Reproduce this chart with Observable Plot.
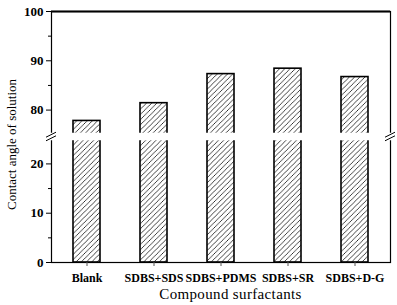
<!DOCTYPE html>
<html><head><meta charset="utf-8">
<script src="https://cdn.jsdelivr.net/npm/d3@7"></script>
<script src="https://cdn.jsdelivr.net/npm/@observablehq/plot@0.6"></script>
<style>html,body{margin:0;padding:0;background:#fff} svg{display:block}</style>
</head><body><div id="chart"></div>
<script>
const categories = ["Blank", "SDBS+SDS", "SDBS+PDMS", "SDBS+SR", "SDBS+D-G"];
const contactAngle = [77.8, 81.4, 87.3, 88.4, 86.7];
const yTicksMajor = [0, 10, 20, 80, 90, 100];
const yTicksMinor = [5, 15, 85, 95];
const breakLow = 24.7, breakHigh = 75.3, gapV = 1.52;
const yTitle = "Contact angle of solution";
const xTitle = "Compound surfactants";

// broken-axis mapping: real value -> continuous axis coordinate
const toV = v => v <= breakLow ? v : v - breakHigh + breakLow + gapV;
const fromV = t => t <= breakLow + gapV / 2 ? t : t - breakLow - gapV + breakHigh;

const data = categories.map((c, i) => ({surfactant: c, v: toV(contactAngle[i])}));

const W = 397, H = 305, mL = 51, mR = 7, mT = 11, mB = 43;
const font = "'Liberation Serif', 'Times New Roman', serif";

const chart = Plot.plot({
  width: W, height: H,
  marginLeft: mL, marginRight: mR, marginTop: mT, marginBottom: mB,
  style: {fontFamily: font, background: "#fff", color: "black", overflow: "visible"},
  x: {domain: categories, paddingInner: 0.59, paddingOuter: 0.295, align: 0.5},
  y: {domain: [0, toV(100)]},
  marks: [
    Plot.barY(data, {x: "surfactant", y1: 0, y2: "v", fill: "url(#hatch)", stroke: "black", strokeWidth: 1.6}),
    Plot.frame({stroke: "black", strokeWidth: 1.2}),
    Plot.ruleY([toV(100)], {stroke: "black", strokeWidth: 2}),
    Plot.rect([0], {y1: breakLow, y2: breakLow + gapV, fill: "white", insetLeft: -5, insetRight: -5}),
    Plot.axisY({ticks: yTicksMajor.map(toV), tickFormat: t => Math.round(fromV(t)), tickSize: 5, tickPadding: 3, fontSize: 13, fontWeight: "bold", label: null}),
    Plot.axisY({ticks: yTicksMinor.map(toV), tickSize: 3, text: null, label: null}),
    Plot.axisX({tickSize: 4, tickPadding: 7, fontSize: 12, fontWeight: "bold", label: null, stroke: "#555"}),
    Plot.text([yTitle], {frameAnchor: "left", textAnchor: "middle", dx: -40, dy: 7.5, rotate: -90, fontSize: 13, fill: "black"}),
    Plot.text([xTitle], {frameAnchor: "bottom", textAnchor: "middle", dx: 9.5, dy: 36.5, fontSize: 15, fill: "black"})
  ]
});

const svg = d3.select(chart);
const defs = svg.insert("defs", ":first-child");
const s = 5.2;
const pat = defs.append("pattern").attr("id", "hatch").attr("patternUnits", "userSpaceOnUse")
  .attr("width", s).attr("height", s);
pat.append("rect").attr("width", s).attr("height", s).attr("fill", "white");
pat.append("path")
  .attr("d", `M0,${s} L${s},0 M${-s/2},${s/2} L${s/2},${-s/2} M${s/2},${s*1.5} L${s*1.5},${s/2}`)
  .attr("stroke", "#111").attr("stroke-width", 0.8);

// break marks on left axis and right frame
const ys = chart.scale("y");
const yc = (ys.apply(breakLow) + ys.apply(breakLow + gapV)) / 2;
for (const xc of [mL, W - mR]) {
  for (const off of [-1.8, 1.8]) {
    svg.append("line")
      .attr("x1", xc - 5).attr("y1", yc + off + 2.5)
      .attr("x2", xc + 5).attr("y2", yc + off - 2.5)
      .attr("stroke", "black").attr("stroke-width", 1);
  }
}
svg.selectAll("text").filter(function(){ return this.textContent === xTitle; }).style("letter-spacing", "0.35px");
document.getElementById("chart").appendChild(chart);
</script>
</body></html>
